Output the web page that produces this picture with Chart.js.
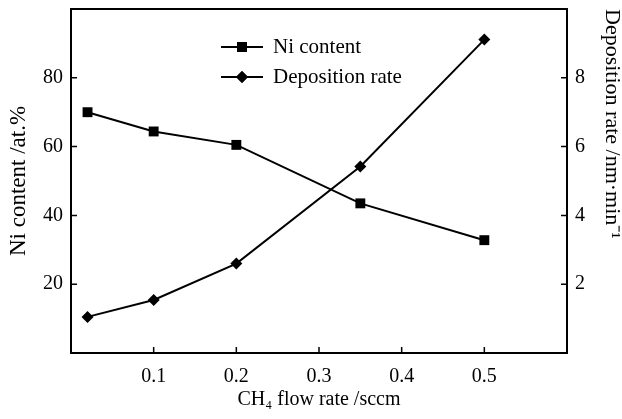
<!DOCTYPE html>
<html>
<head>
<meta charset="utf-8">
<script src="https://cdn.jsdelivr.net/npm/chart.js@4.4.0/dist/chart.umd.min.js"></script>
<style>
  html, body { margin: 0; padding: 0; background: #fff; }
  #wrap { width: 622px; height: 419px; }
</style>
</head>
<body>
<div id="wrap"><canvas id="niChart" width="622" height="419"></canvas></div>
<script>
// data
const flowRate = [0.02, 0.1, 0.2, 0.35, 0.5];
const niContent = [70.0, 64.4, 60.5, 43.5, 32.8];
const depRate = [1.05, 1.54, 2.6, 5.42, 9.11];
const xTicks = [0.1, 0.2, 0.3, 0.4, 0.5];
const niTicks = [20, 40, 60, 80];
const depTicks = [2, 4, 6, 8];

const serif = "'Liberation Serif', 'Times New Roman', serif";

// inside tick marks + full frame
const frameTicks = {
  id: 'frameTicks',
  afterDraw(chart) {
    const ctx = chart.ctx;
    const a = chart.chartArea;
    const len = 6;
    ctx.save();
    ctx.strokeStyle = '#000';
    ctx.lineWidth = 2;
    ctx.strokeRect(a.left, a.top, a.right - a.left, a.bottom - a.top);
    ctx.lineWidth = 1.5;
    ctx.beginPath();
    xTicks.forEach(v => {
      const px = chart.scales.x.getPixelForValue(v);
      ctx.moveTo(px, a.bottom);
      ctx.lineTo(px, a.bottom - len);
    });
    niTicks.forEach(v => {
      const py = chart.scales.y.getPixelForValue(v);
      ctx.moveTo(a.left, py);
      ctx.lineTo(a.left + len, py);
    });
    depTicks.forEach(v => {
      const py = chart.scales.y2.getPixelForValue(v);
      ctx.moveTo(a.right, py);
      ctx.lineTo(a.right - len, py);
    });
    ctx.stroke();
    ctx.restore();
  }
};

// legend drawn inside the plot
const innerLegend = {
  id: 'innerLegend',
  afterDraw(chart) {
    const ctx = chart.ctx;
    const a = chart.chartArea;
    const x0 = a.left + 150, x1 = a.left + 192;
    const rows = [38, 68];
    ctx.save();
    ctx.font = '21px ' + serif;
    ctx.textBaseline = 'middle';
    ctx.fillStyle = '#000';
    chart.data.datasets.forEach((ds, i) => {
      const y = a.top + rows[i];
      ctx.strokeStyle = '#000';
      ctx.lineWidth = 2;
      ctx.beginPath();
      ctx.moveTo(x0, y);
      ctx.lineTo(x1, y);
      ctx.stroke();
      Chart.helpers.drawPoint(ctx, {
        pointStyle: ds.pointStyle, radius: ds.pointRadius, borderWidth: 0
      }, (x0 + x1) / 2, y);
      ctx.fill();
      ctx.fillText(ds.label, x1 + 10, y);
    });
    ctx.restore();
  }
};

const noPad = s => { s.paddingTop = 0; s.paddingBottom = 0; s.paddingLeft = 0; s.paddingRight = 0; };

const ctx = document.getElementById('niChart');
new Chart(ctx, {
  type: 'line',
  data: {
    datasets: [{
      label: 'Ni content',
      data: flowRate.map((x, i) => ({ x: x, y: niContent[i] })),
      yAxisID: 'y',
      borderColor: '#000',
      backgroundColor: '#000',
      borderWidth: 2,
      pointStyle: 'rect',
      pointRadius: 7,
      pointBorderWidth: 0
    }, {
      label: 'Deposition rate',
      data: flowRate.map((x, i) => ({ x: x, y: depRate[i] })),
      yAxisID: 'y2',
      borderColor: '#000',
      backgroundColor: '#000',
      borderWidth: 2,
      pointStyle: 'rectRot',
      pointRadius: 6,
      pointBorderWidth: 0
    }]
  },
  options: {
    responsive: false,
    animation: false,
    layout: { padding: { top: 9, left: 0, right: 0, bottom: 0 } },
    plugins: { legend: { display: false }, tooltip: { enabled: false } },
    scales: {
      x: {
        type: 'linear',
        min: 0, max: 0.6,
        afterBuildTicks: s => { s.ticks = xTicks.map(v => ({ value: v })); },
        afterFit: s => { s.height = 66; noPad(s); },
        grid: { display: false, drawTicks: false },
        border: { display: false },
        ticks: {
          color: '#000', padding: 12,
          font: { family: serif, size: 20 },
          callback: v => v.toFixed(1)
        },
        title: {
          display: true, text: 'CH₄ flow rate /sccm', color: '#000',
          font: { family: serif, size: 20, lineHeight: 1 }, padding: { top: 0, bottom: 9 }
        }
      },
      y: {
        position: 'left',
        min: 0, max: 100,
        afterBuildTicks: s => { s.ticks = niTicks.map(v => ({ value: v })); },
        afterFit: s => { s.width = 71; noPad(s); },
        grid: { display: false, drawTicks: false },
        border: { display: false },
        ticks: { color: '#000', padding: 8, font: { family: serif, size: 20 } },
        title: {
          display: true, text: 'Ni content /at.%', color: '#000',
          font: { family: serif, size: 23, lineHeight: 1 }, padding: { top: 7, bottom: 0 }
        }
      },
      y2: {
        position: 'right',
        min: 0, max: 10,
        afterBuildTicks: s => { s.ticks = depTicks.map(v => ({ value: v })); },
        afterFit: s => { s.width = 55; noPad(s); },
        grid: { display: false, drawTicks: false },
        border: { display: false },
        ticks: { color: '#000', padding: 8, font: { family: serif, size: 20 } },
        title: {
          display: true, text: 'Deposition rate /nm·min⁻¹', color: '#000', align: 'end',
          font: { family: serif, size: 22, lineHeight: 1 }, padding: { top: -1, bottom: 0 }
        }
      }
    }
  },
  plugins: [frameTicks, innerLegend]
});
</script>
</body>
</html>
